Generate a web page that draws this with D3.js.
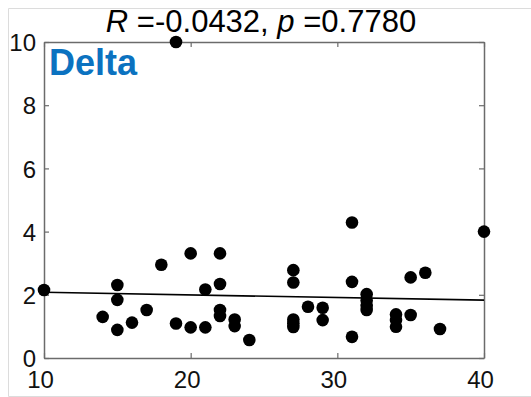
<!DOCTYPE html>
<html>
<head>
<meta charset="utf-8">
<script src="https://cdn.jsdelivr.net/npm/d3@7"></script>
<style>
  html, body { margin: 0; padding: 0; background: #fff; }
  svg { display: block; font-family: "Liberation Sans", Arial, sans-serif; }
</style>
</head>
<body>
<div id="chart"></div>
<script>
// scatter values
const xVals = [10, 14, 15, 15, 15, 16, 17, 18, 19, 19, 20, 20, 21, 21, 22, 22, 22, 22,
  23, 23, 24, 27, 27, 27, 27, 27, 28, 29, 29, 31, 31, 31, 32, 32, 32, 32,
  34, 34, 34, 35, 35, 36, 37, 40];
const yVals = [2.15, 1.3, 2.31, 1.84, 0.89, 1.12, 1.52, 2.95, 10, 1.09, 3.31, 0.97, 2.17, 0.97, 3.31, 2.34, 1.52, 1.33,
  1.22, 1.01, 0.57, 2.78, 2.39, 1.22, 1.1, 0.98, 1.62, 1.59, 1.2, 4.29, 2.41, 0.67, 2.02, 1.82, 1.65, 1.52,
  1.38, 1.2, 0.99, 2.55, 1.36, 2.7, 0.92, 4.0];

// fitted line ends
const fitX = [10, 40];
const fitY = [2.08, 1.83];

const xTicks = [10, 20, 30, 40];
const yTicks = [0, 2, 4, 6, 8, 10];

const titleR = "-0.0432";
const titleP = "0.7780";
const panelLabel = "Delta";

const W = 531, H = 397;
const margin = { top: 42, right: 47, bottom: 39, left: 44 };
const width = W - margin.left - margin.right,
  height = H - margin.top - margin.bottom;

const svg = d3.select("#chart").append("svg")
  .attr("width", W)
  .attr("height", H);

// light figure border
svg.append("path")
  .attr("d", "M" + W + ",8.5H8.5V396.5H" + W)
  .attr("fill", "none")
  .attr("stroke", "#dcdcdc")
  .attr("stroke-width", 1);

const g = svg.append("g")
  .attr("transform", "translate(" + margin.left + "," + margin.top + ")");

const x = d3.scaleLinear().domain([10, 40]).range([0, width]);
const y = d3.scaleLinear().domain([0, 10]).range([height, 0]);

// inward ticks on all sides, MATLAB style
const tickLen = 5;
const axisColor = "#6b6b6b";

const axBottom = g.append("g")
  .attr("transform", "translate(0," + height + ")")
  .call(d3.axisBottom(x).tickValues(xTicks).tickSizeInner(-tickLen).tickSizeOuter(0).tickPadding(13));
const axTop = g.append("g")
  .call(d3.axisTop(x).tickValues(xTicks).tickSizeInner(-tickLen).tickSizeOuter(0).tickFormat(""));
const axLeft = g.append("g")
  .call(d3.axisLeft(y).tickValues(yTicks).tickSizeInner(-tickLen).tickSizeOuter(0).tickPadding(8));
const axRight = g.append("g")
  .attr("transform", "translate(" + width + ",0)")
  .call(d3.axisRight(y).tickValues(yTicks).tickSizeInner(-tickLen).tickSizeOuter(0).tickFormat(""));

[axBottom, axTop, axLeft, axRight].forEach(a => {
  a.select(".domain").attr("stroke", axisColor).attr("stroke-width", 1.5);
  a.selectAll(".tick line").attr("stroke", axisColor).attr("stroke-width", 1.2);
  a.selectAll(".tick text").attr("fill", "#111").style("font-size", "24px")
    .style("font-family", "'Liberation Sans', Arial, sans-serif");
});
axBottom.selectAll(".tick text").attr("dx", "-4");
axLeft.selectAll(".tick text").attr("dy", "0.36em");

// regression line
g.append("path")
  .datum(fitX.map((v, i) => ({ x: v, y: fitY[i] })))
  .attr("fill", "none")
  .attr("stroke", "#000")
  .attr("stroke-width", 1.6)
  .attr("d", d3.line().x(d => x(d.x)).y(d => y(d.y)));

// points
g.selectAll("circle.pt")
  .data(xVals.map((v, i) => ({ x: v, y: yVals[i] })))
  .join("circle")
  .attr("class", "pt")
  .attr("cx", d => x(d.x))
  .attr("cy", d => y(d.y))
  .attr("r", 6.3)
  .attr("fill", "#000");

// panel label
g.append("text")
  .attr("x", 5)
  .attr("y", 33)
  .attr("fill", "#0b72c0")
  .style("font-size", "36px")
  .style("font-weight", "bold")
  .text(panelLabel);

// title
const title = svg.append("text")
  .attr("x", margin.left + width / 2 - 3)
  .attr("y", 32)
  .attr("text-anchor", "middle")
  .attr("fill", "#000")
  .style("font-size", "31px");
title.append("tspan").style("font-style", "italic").text("R");
title.append("tspan").text(" =" + titleR + ", ");
title.append("tspan").style("font-style", "italic").text("p");
title.append("tspan").text(" =" + titleP);
</script>
</body>
</html>
